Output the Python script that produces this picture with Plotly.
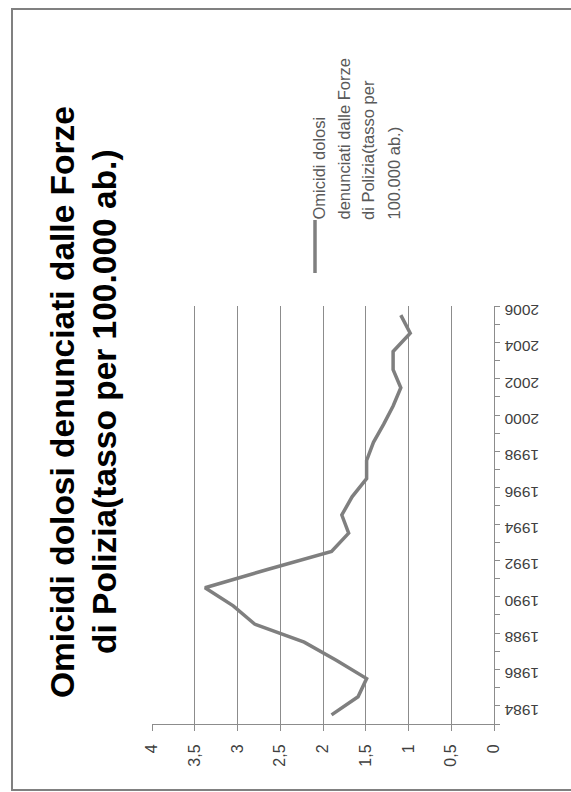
import plotly.graph_objects as go

# Homicide rate per 100,000 inhabitants reported by the police, by year
years = list(range(1984, 2007))
rates = [1.90, 1.59, 1.49, 1.84, 2.22, 2.80, 3.05, 3.38, 2.65, 1.90, 1.70, 1.78,
         1.66, 1.49, 1.49, 1.41, 1.29, 1.18, 1.09, 1.18, 1.18, 0.98, 1.09]

value_ticks = [0, 0.5, 1, 1.5, 2, 2.5, 3, 3.5, 4]
value_labels = ["0", "0,5", "1", "1,5", "2", "2,5", "3", "3,5", "4"]
year_ticks = list(range(1984, 2007, 2))
year_labels = [str(y) for y in year_ticks]

title_lines = ["Omicidi dolosi denunciati dalle Forze",
               "di Polizia(tasso per 100.000 ab.)"]
legend_lines = ["Omicidi dolosi", "denunciati dalle Forze",
                "di Polizia(tasso per", "100.000 ab.)"]

W, H = 571, 792
L, R, T, B = 152, 77, 306, 68
PW, PH = W - L - R, H - T - B

def px(x):
    return (x - L) / PW

def py(y):
    return (H - B - y) / PH

FONT = "Liberation Sans, Arial, sans-serif"
LINE_COLOR = "#7f7f7f"
GRID = "#8c8c8c"

fig = go.Figure()
# the chart is laid out turned a quarter turn: values run horizontally (4 -> 0),
# years run bottom to top along the right side
fig.add_trace(go.Scatter(
    x=rates, y=years, mode="lines",
    line=dict(color=LINE_COLOR, width=3.5),
    showlegend=False, hoverinfo="skip",
))

fig.update_layout(
    width=W, height=H,
    margin=dict(l=L, r=R, t=T, b=B, pad=0),
    paper_bgcolor="white", plot_bgcolor="white",
    showlegend=False,
    xaxis=dict(
        range=[4, 0], tickvals=value_ticks, ticktext=value_labels,
        tickangle=-90, ticks="outside", ticklen=6, tickcolor=GRID,
        ticklabelstandoff=7,
        showline=True, linecolor=GRID, linewidth=1,
        showgrid=True, gridcolor=GRID, gridwidth=1, zeroline=False,
        tickfont=dict(family=FONT, size=16, color="#404040"),
        fixedrange=True,
    ),
    yaxis=dict(
        range=[1983.5, 2006.5], side="right",
        tickvals=year_ticks, ticktext=year_labels, tickangle=180,
        ticklabelstandoff=41,
        ticks="", showline=True, linecolor=GRID, linewidth=1,
        showgrid=False, zeroline=False,
        tickfont=dict(family=FONT, size=15.5, color="#404040"),
        minor=dict(tick0=1983.5, dtick=1, ticks="outside", ticklen=5,
                   tickcolor=GRID, showgrid=False),
        fixedrange=True,
    ),
)

# outer chart border
fig.add_shape(type="rect", xref="paper", yref="paper",
              x0=px(12), x1=px(580), y0=py(790), y1=py(9),
              line=dict(color="#808080", width=2), layer="below")

# title, two rotated lines
for xc, txt in zip([62, 104], title_lines):
    fig.add_annotation(text=f"<b>{txt}</b>", xref="paper", yref="paper",
                       x=px(xc), y=py(402), xanchor="center", yanchor="middle",
                       textangle=-90, showarrow=False,
                       font=dict(family=FONT, size=33.5, color="#000000"))

# legend key and its rotated text
fig.add_shape(type="line", xref="paper", yref="paper",
              x0=px(315), x1=px(315), y0=py(273), y1=py(220),
              line=dict(color=LINE_COLOR, width=3.5))
for xc, txt in zip([318, 343, 368, 393], legend_lines):
    fig.add_annotation(text=txt, xref="paper", yref="paper",
                       x=px(xc), y=py(222), xanchor="center", yanchor="bottom",
                       textangle=-90, showarrow=False,
                       font=dict(family=FONT, size=16.5, color="#595959"))

fig.write_html("out.html")
